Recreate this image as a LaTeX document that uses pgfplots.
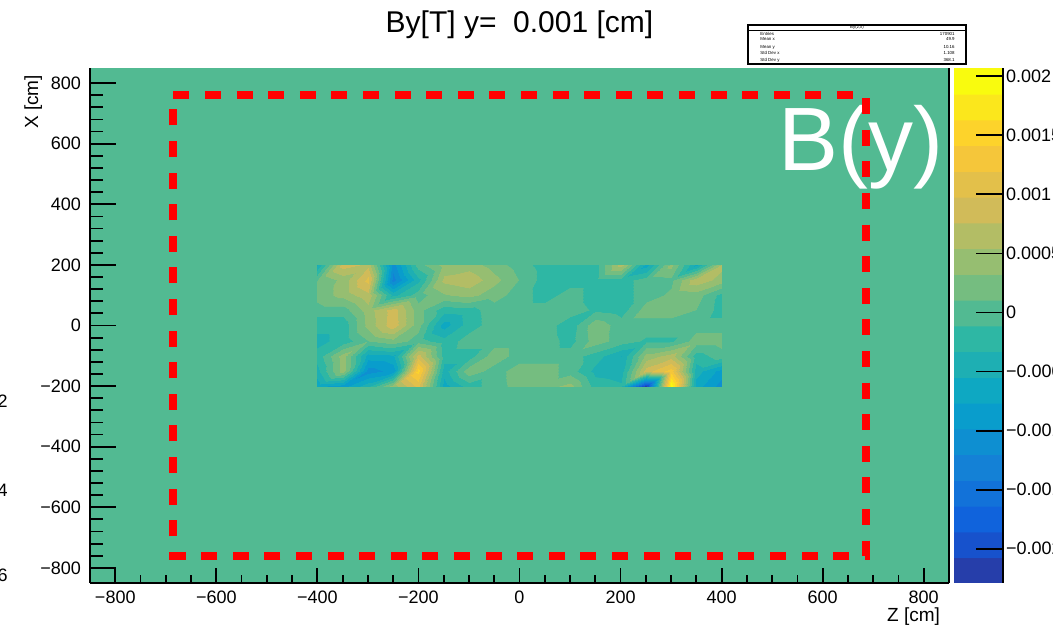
\documentclass[border=0pt]{standalone}
\usepackage{fontspec}
\setmainfont{Liberation Sans}
\usepackage{pgfplots}
\pgfplotsset{compat=1.18}
\definecolor{bgreen}{rgb}{0.3202,0.7304,0.5720}
\pgfplotsset{
  colormap={bird}{
    rgb(0pt)=(0.1486,0.2438,0.6649)  rgb(0.97pt)=(0.1486,0.2438,0.6649)
    rgb(1pt)=(0.0890,0.3212,0.8006)  rgb(1.97pt)=(0.0890,0.3212,0.8006)
    rgb(2pt)=(0.0630,0.3887,0.8624)  rgb(2.97pt)=(0.0630,0.3887,0.8624)
    rgb(3pt)=(0.0705,0.4464,0.8505)  rgb(3.97pt)=(0.0705,0.4464,0.8505)
    rgb(4pt)=(0.0780,0.5041,0.8385)  rgb(4.97pt)=(0.0780,0.5041,0.8385)
    rgb(5pt)=(0.0561,0.5592,0.8197)  rgb(5.97pt)=(0.0561,0.5592,0.8197)
    rgb(6pt)=(0.0342,0.6143,0.8008)  rgb(6.97pt)=(0.0342,0.6143,0.8008)
    rgb(7pt)=(0.0546,0.6571,0.7616)  rgb(7.97pt)=(0.0546,0.6571,0.7616)
    rgb(8pt)=(0.1174,0.6874,0.7021)  rgb(8.97pt)=(0.1174,0.6874,0.7021)
    rgb(9pt)=(0.1802,0.7178,0.6425)  rgb(9.97pt)=(0.1802,0.7178,0.6425)
    rgb(10pt)=(0.3202,0.7304,0.5720) rgb(10.97pt)=(0.3202,0.7304,0.5720)
    rgb(11pt)=(0.4601,0.7429,0.5015) rgb(11.97pt)=(0.4601,0.7429,0.5015)
    rgb(12pt)=(0.5878,0.7459,0.4429) rgb(12.97pt)=(0.5878,0.7459,0.4429)
    rgb(13pt)=(0.7032,0.7394,0.3964) rgb(13.97pt)=(0.7032,0.7394,0.3964)
    rgb(14pt)=(0.8186,0.7328,0.3499) rgb(14.97pt)=(0.8186,0.7328,0.3499)
    rgb(15pt)=(0.8894,0.7542,0.2887) rgb(15.97pt)=(0.8894,0.7542,0.2887)
    rgb(16pt)=(0.9602,0.7755,0.2274) rgb(16.97pt)=(0.9602,0.7755,0.2274)
    rgb(17pt)=(0.9918,0.8256,0.1682) rgb(17.97pt)=(0.9918,0.8256,0.1682)
    rgb(18pt)=(0.9841,0.9044,0.1111) rgb(18.97pt)=(0.9841,0.9044,0.1111)
    rgb(19pt)=(0.9764,0.9832,0.0539) rgb(20pt)=(0.9764,0.9832,0.0539)
  },
}

\begin{document}
\begin{tikzpicture}[x=1pt,y=1pt]
\useasboundingbox (0,0) rectangle (526.5,315);
\clip (0,0) rectangle (526.5,315);
\begin{axis}[
  at={(45pt,23.5pt)}, anchor=south west,
  scale only axis, width=429.5pt, height=257.5pt,
  xmin=-850, xmax=850, ymin=-850, ymax=850,
  axis background/.style={fill=bgreen},
  axis x line*=bottom, axis y line*=box,
  axis line style={-, line width=0.8pt},
  tick align=inside, xtick pos=bottom, ytick pos=left,
  xtick={-800,-600,...,800},
  xticklabels={−800,−600,−400,−200,0,200,400,600,800},
  ytick={-800,-600,...,800},
  yticklabels={−800,−600,−400,−200,0,200,400,600,800},
  minor x tick num=3, minor y tick num=4,
  xtick style={/pgfplots/major tick length=7.5pt,/pgfplots/minor tick length=3.75pt, black, line width=0.9pt},
  ytick style={/pgfplots/major tick length=13pt,/pgfplots/minor tick length=6.5pt, black, line width=0.9pt},
  ticklabel style={font=\fontsize{9}{10}\selectfont},
  xticklabel style={yshift=-0.5pt},
  yticklabel style={xshift=-1pt},
  title={By[T] y=\ \ 0.001 [cm]},
  title style={at={(0.5,1)}, anchor=base, yshift=11.5pt, font=\fontsize{15}{17}\selectfont},
  xlabel={Z [cm]},
  xlabel style={at={(axis description cs:0.99767,-0.0757)}, anchor=base east, font=\fontsize{9.5}{10}\selectfont},
  ylabel={X [cm]},
  ylabel style={at={(axis description cs:-0.0605,1)}, anchor=base east, font=\fontsize{9.5}{10}\selectfont},
  colormap name=bird,
  point meta min=-229, point meta max=207,
]
\addplot[surf, shader=interp, mesh/cols=17, point meta=explicit] table[meta=v] {
x y v
-400 200 -55
-350 200 87
-300 200 70
-250 200 -109
-200 200 0
-150 200 40
-100 200 44
-50 200 22
0 200 0
50 200 -22
100 200 -22
150 200 -22
200 200 65
250 200 -65
300 200 40
350 200 -60
400 200 60
-400 150 10
-350 150 40
-300 150 105
-250 150 -130
-200 150 -40
-150 150 60
-100 150 70
-50 150 40
0 150 10
50 150 -22
100 150 -22
150 150 -22
200 150 -22
250 150 0
300 150 5
350 150 70
400 150 44
-400 100 20
-350 100 40
-300 100 70
-250 100 -40
-200 100 0
-150 100 30
-100 100 40
-50 100 20
0 100 0
50 100 -22
100 100 0
150 100 -22
200 100 -22
250 100 0
300 100 15
350 100 22
400 100 -20
-400 50 0
-350 50 0
-300 50 44
-250 50 87
-200 50 20
-150 50 -25
-100 50 -20
-50 50 0
0 50 0
50 50 0
100 50 0
150 50 -15
200 50 -22
250 50 22
300 50 22
350 50 10
400 50 -22
-400 0 -25
-350 0 -25
-300 0 40
-250 0 90
-200 0 20
-150 0 -65
-100 0 -22
-50 0 0
0 0 0
50 0 0
100 0 -25
150 0 25
200 0 0
250 0 0
300 0 0
350 0 0
400 0 0
-400 -50 -40
-350 -50 -25
-300 -50 10
-250 -50 25
-200 -50 0
-150 -50 -25
-100 -50 0
-50 -50 0
0 -50 0
50 -50 0
100 -50 -20
150 -50 22
200 -50 0
250 -50 -15
300 -50 -15
350 -50 22
400 -50 22
-400 -100 -25
-350 -100 44
-300 -100 -65
-250 -100 -60
-200 -100 87
-150 -100 -22
-100 -100 -22
-50 -100 25
0 -100 0
50 -100 0
100 -100 0
150 -100 -22
200 -100 -55
250 -100 40
300 -100 65
350 -100 -22
400 -100 0
-400 -150 -40
-350 -150 44
-300 -150 -110
-250 -150 -90
-200 -150 150
-150 -150 -44
-100 -150 25
-50 -150 0
0 -150 22
50 -150 22
100 -150 0
150 -150 -40
200 -150 -44
250 -150 87
300 -150 130
350 -150 -44
400 -150 -87
-400 -200 -70
-350 -200 -87
-300 -200 -40
-250 -200 44
-200 -200 105
-150 -200 -65
-100 -200 -22
-50 -200 0
0 -200 20
50 -200 22
100 -200 40
150 -200 -22
200 -200 -30
250 -200 -220
300 -200 200
350 -200 -65
400 -200 -110
};
\node[anchor=base west, text=white, inner sep=0pt, font=\fontsize{45}{50}\selectfont] at (axis cs:512,512) {B(y)};
\addplot[red, line width=4pt, dash pattern=on 8pt off 7.8pt] coordinates {(-685,760) (685,760) (685,-760) (-685,-760) (-685,760)};
\end{axis}
% colour palette
\begin{axis}[
  at={(477pt,23.5pt)}, anchor=south west,
  scale only axis, width=24.5pt, height=257.5pt,
  xmin=0, xmax=1, ymin=-229, ymax=207,
  axis on top,
  hide x axis,
  axis line style={draw=none},
  colormap name=bird,
  point meta min=-229, point meta max=207,
  ytick={-200,-150,...,200},
  yticklabels={−0.002,−0.0015,−0.001,−0.0005,0,0.0005,0.001,0.0015,0.002},
  ytick pos=right, yticklabel pos=right, tick align=inside,
  major tick length=13.5pt, minor tick num=0,
  ytick style={black, line width=0.9pt},
  yticklabel style={font=\fontsize{9}{10}\selectfont, xshift=-2pt},
]
\addplot[surf, shader=interp, mesh/cols=2, point meta=y] coordinates {(0,-229) (1,-229) (0,207) (1,207)};
\end{axis}
\draw[line width=0.8pt] (501.5,23.5) -- (501.5,281);
% stats box
\draw[line width=0.9pt] (374,283) rectangle (483,302.5);
\draw[line width=0.6pt] (374,299.8) -- (483,299.8);
\node[font=\fontsize{2.2}{2.4}\selectfont, inner sep=0] at (428.5,301.2) {By(z,x)};
\begin{scope}[every node/.style={font=\fontsize{2.2}{2.4}\selectfont, inner sep=0}]
\node[anchor=west] at (380,298) {Entries};
\node[anchor=east] at (477.5,298) {170901};
\node[anchor=west] at (380,295.5) {Mean x};
\node[anchor=east] at (477.5,295.5) {49.9};
\node[anchor=west] at (380,291.5) {Mean y};
\node[anchor=east] at (477.5,291.5) {10.16};
\node[anchor=west] at (380,288.5) {Std Dev x};
\node[anchor=east] at (477.5,288.5) {1.108};
\node[anchor=west] at (380,285) {Std Dev y};
\node[anchor=east] at (477.5,285) {368.1};
\end{scope}
% cut-off labels of the neighbouring plot
\node[anchor=base east, inner sep=0, font=\fontsize{9}{10}\selectfont] at (4,111.25) {−0.002};
\node[anchor=base east, inner sep=0, font=\fontsize{9}{10}\selectfont] at (4,66.75) {−0.004};
\node[anchor=base east, inner sep=0, font=\fontsize{9}{10}\selectfont] at (4,24.25) {−0.006};
\end{tikzpicture}
\end{document}
